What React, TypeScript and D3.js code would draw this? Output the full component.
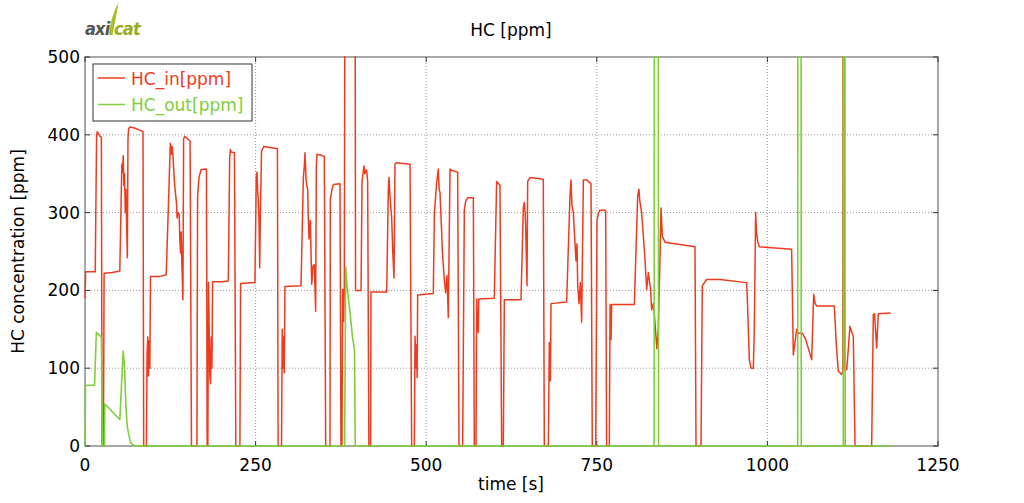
import React from "react";
import * as d3 from "d3";

// ---- data (time [s], concentration [ppm]) ----
const xTicks = [0, 250, 500, 750, 1000, 1250];
const yTicks = [0, 100, 200, 300, 400, 500];

const hcIn: [number, number][] = [
  [0, 190], [1, 224], [15, 224], [17, 400], [18, 404], [22, 398], [24, 397], [25, 0], [27, 0], [28, 222],
  [40, 223], [51, 225], [54, 362], [55, 352], [56, 373], [57, 335], [58, 350], [59, 300], [60, 330], [62, 242],
  [63, 395], [64, 408], [66, 410], [75, 408], [85, 404], [86, 0], [90, 0], [91, 120], [92, 140], [93, 90],
  [94, 135], [95, 100], [96, 218], [110, 218], [119, 220], [123, 330], [125, 389], [127, 375], [128, 385], [129, 372],
  [131, 340], [132, 330], [134, 313], [135, 293], [136, 300], [138, 298], [139, 265], [140, 248], [141, 275], [142, 233],
  [143.5, 188], [144.5, 395], [146, 398], [154, 392], [156, 0], [164, 0], [165, 320], [167, 345], [170, 355], [178, 356],
  [179, 0], [180, 0], [181, 210], [182, 150], [183, 90], [184, 80], [185, 140], [186, 100], [187, 211], [200, 211],
  [210, 212], [212, 370], [213, 381], [214, 378], [219, 377], [221, 0], [227, 0], [228, 209], [249, 210], [251, 347],
  [252, 352], [253, 330], [254, 313], [255, 290], [256, 229], [257, 300], [258.7, 379], [262, 385], [282, 382], [283, 0],
  [288, 0], [289, 150], [290, 100], [291, 140], [292, 94], [293, 205], [316.5, 206], [320, 345], [321.4, 360], [322.4, 377],
  [323.9, 343], [325, 335], [326.3, 330], [327.3, 291], [328.3, 266], [330.2, 290], [332.2, 208], [334.1, 231], [336.1, 233], [338, 173],
  [339, 360], [340, 375], [345, 374], [350.7, 372], [352.7, 0], [359, 0], [359.5, 317], [362, 330], [364, 336], [373.7, 337],
  [375.1, 0], [376.5, 0], [377.6, 201], [379, 160], [380, 205], [381, 650], [395.7, 650], [396.5, 200], [404.5, 200], [406, 340],
  [408.8, 360], [410, 350], [412.7, 355], [414.2, 340], [416, 0], [418.5, 0], [419.1, 198], [442.1, 198], [444.5, 330], [445.5, 345],
  [447, 320], [449.4, 293], [451, 250], [452.8, 216], [454.3, 362], [456, 364], [476.3, 362], [478.7, 0], [482.6, 0], [483.6, 141],
  [485, 100], [486, 130], [486.7, 88], [487.5, 194], [510.4, 196], [512, 300], [515.3, 338], [517.7, 356], [519, 330], [520.2, 326],
  [522.7, 274], [523.6, 251], [526.1, 219], [528.5, 197], [530.5, 219], [532.4, 165], [534.9, 356], [538, 354], [546.1, 352], [548.1, 0],
  [553.4, 0], [555.9, 304], [558, 315], [560.8, 319], [569.1, 319], [570.5, 0], [573, 0], [574, 189], [575, 160], [576.4, 146],
  [577, 189], [599.8, 190], [603.2, 340], [606, 337], [608.1, 335], [610.6, 0], [613, 0], [614.5, 188], [638.9, 188], [642.3, 306],
  [643.8, 313], [645, 300], [645.8, 280], [647.7, 206], [648.7, 340], [652.1, 345], [671.6, 343], [673.1, 0], [679, 0], [680.4, 133],
  [681.4, 90], [682, 84], [682.4, 130], [682.9, 183], [705.8, 185], [710.7, 321], [712.2, 342], [713.5, 310], [715.6, 300], [718, 261],
  [719.5, 238], [721, 260], [722, 207], [723.9, 183], [725.9, 210], [727.8, 159], [730.3, 342], [735, 342], [741.5, 337], [743.4, 0],
  [748.4, 0], [750.3, 289], [752.5, 300], [754.7, 303], [763, 303], [764.4, 0], [768.3, 0], [769.5, 182], [770.8, 137], [771.8, 182],
  [805, 182], [809.9, 321], [811.8, 330], [813, 315], [815.7, 300], [818.2, 270], [820.6, 240], [823.1, 201], [825.5, 223], [828.9, 201],
  [830.4, 175], [832.8, 183], [834.3, 170], [838, 125], [840.1, 150], [842.6, 240], [844.1, 306], [846, 270], [849.9, 262], [893.9, 256],
  [895.4, 0], [902.7, 0], [904.6, 206], [911, 214], [930.5, 214], [969.6, 210], [971, 180], [973.5, 111], [976, 100], [979.4, 100],
  [980.8, 150], [982.8, 300], [984, 275], [986, 262], [988.2, 256], [1035.5, 253], [1036.5, 200], [1038, 117], [1040, 130], [1042.9, 150],
  [1045, 145], [1051.2, 145], [1056.1, 137], [1064.9, 111], [1067.8, 195], [1070, 183], [1072.2, 180], [1098.1, 180], [1101, 130], [1103.9, 96],
  [1108.8, 92], [1110.5, 96], [1111, 650], [1112, 650], [1112.5, 98], [1116.2, 98], [1119, 130], [1121, 154], [1123, 148], [1125.9, 141],
  [1128.4, 0], [1152.8, 0], [1155.2, 169], [1157, 170], [1160.1, 126], [1162.5, 170], [1180.6, 171],
];

const hcOut: [number, number][] = [
  [0, 0], [0.8, 78], [14, 78], [16.6, 146], [24, 140], [25.5, 0], [28.5, 0], [29, 54], [51, 34], [56, 122],
  [58, 100], [60, 50], [62, 25], [64.5, 13], [67, 4], [72, 0.5], [75, 0], [380.5, 0], [382, 230], [384, 205],
  [388, 175], [392, 140], [395, 123], [396, 0], [834, 0], [834.3, 650], [840.1, 650], [840.5, 0], [1044.4, 0], [1044.7, 650],
  [1049.3, 650], [1049.6, 0], [1111.2, 0], [1111.5, 650], [1113.7, 650], [1114, 0], [1180.6, 0],
];

const RED = "#f03a1e";
const GREEN = "#7ed03a";
const FONT = "DejaVu Sans, Verdana, sans-serif";

export default function App() {
  const W = 1024, H = 503;
  const L = 85, R = 938, T = 57, B = 446;
  const x = d3.scaleLinear().domain([0, 1250]).range([L, R]);
  const y = d3.scaleLinear().domain([0, 500]).range([B, T]);
  const line = d3.line<[number, number]>().x(d => x(d[0])).y(d => y(d[1]));

  return (
    <svg width={W} height={H} style={{ position: "absolute", left: 0, top: 0, background: "#fff" }}
      fontFamily={FONT}>
      <defs>
        <clipPath id="plotclip">
          <rect x={L - 1} y={T - 1} width={R - L + 2} height={B - T + 2} />
        </clipPath>
      </defs>
      <rect x={0} y={0} width={W} height={H} fill="#fff" />

      {/* logo */}
      <g fontFamily="DejaVu Sans Condensed, DejaVu Sans, sans-serif" fontSize={18} fontWeight="bold"
        fontStyle="italic" letterSpacing={-0.8}>
        <text x={85} y={35} fill="#555555">axi</text>
        <path d="M109 35 C110 24 113 12 118.5 3 C116.5 14 114.5 25 112.5 35 Z" fill="#a5be2c" />
        <text x={114} y={35} fill="#9aab1e">cat</text>
      </g>

      {/* title */}
      <text x={511} y={36} fontSize={17} textAnchor="middle" fill="#000">HC [ppm]</text>

      {/* grid */}
      <g stroke="#9a9a9a" strokeWidth={1} strokeDasharray="1,2">
        {xTicks.slice(1, -1).map(t => (
          <line key={"gx" + t} x1={x(t)} x2={x(t)} y1={T} y2={B} />
        ))}
        {yTicks.slice(1, -1).map(t => (
          <line key={"gy" + t} x1={L} x2={R} y1={y(t)} y2={y(t)} />
        ))}
      </g>

      {/* border */}
      <rect x={L} y={T} width={R - L} height={B - T} fill="none" stroke="#7a7a7a" strokeWidth={1.3} />

      {/* ticks */}
      <g stroke="#333" strokeWidth={1}>
        {xTicks.map(t => (
          <g key={"tx" + t}>
            <line x1={x(t)} x2={x(t)} y1={B} y2={B - 5} />
            <line x1={x(t)} x2={x(t)} y1={T} y2={T + 5} />
          </g>
        ))}
        {yTicks.map(t => (
          <g key={"ty" + t}>
            <line x1={L} x2={L + 5} y1={y(t)} y2={y(t)} />
            <line x1={R} x2={R - 5} y1={y(t)} y2={y(t)} />
          </g>
        ))}
      </g>

      {/* series */}
      <g clipPath="url(#plotclip)" fill="none" strokeLinejoin="round">
        <path d={line(hcIn) || ""} stroke={RED} strokeWidth={1.5} />
        <path d={line(hcOut) || ""} stroke={GREEN} strokeWidth={1.6} />
      </g>

      {/* tick labels */}
      <g fontSize={17} fill="#000">
        {xTicks.map(t => (
          <text key={"lx" + t} x={x(t)} y={471} textAnchor="middle">{t}</text>
        ))}
        {yTicks.map(t => (
          <text key={"ly" + t} x={80} y={y(t) + 6} textAnchor="end">{t}</text>
        ))}
      </g>

      {/* axis labels */}
      <text x={511} y={490} fontSize={17} textAnchor="middle">time [s]</text>
      <text transform={`translate(24, ${(T + B) / 2}) rotate(-90)`} fontSize={17} textAnchor="middle">
        HC concentration [ppm]
      </text>

      {/* legend */}
      <g>
        <rect x={93} y={64} width={159} height={57} fill="#fff" stroke="#333" strokeWidth={1} />
        <line x1={98} x2={125} y1={78} y2={78} stroke={RED} strokeWidth={1.5} />
        <text x={131} y={84.5} fontSize={17} fill={RED}>HC_in[ppm]</text>
        <line x1={98} x2={125} y1={104.5} y2={104.5} stroke={GREEN} strokeWidth={1.5} />
        <text x={131} y={110.5} fontSize={17} fill={GREEN}>HC_out[ppm]</text>
      </g>
    </svg>
  );
}
